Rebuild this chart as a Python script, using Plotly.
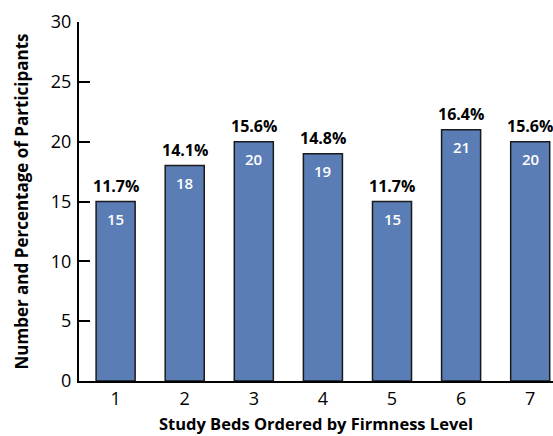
import plotly.graph_objects as go

beds = [1, 2, 3, 4, 5, 6, 7]
counts = [15, 18, 20, 19, 15, 21, 20]
percents = ["11.7%", "14.1%", "15.6%", "14.8%", "11.7%", "16.4%", "15.6%"]

FONT = "Open Sans"

fig = go.Figure()
fig.add_trace(go.Bar(
    x=beds, y=counts,
    marker=dict(color="#5b7db5", line=dict(color="#1a1a1a", width=1.5)),
    width=0.565,
    cliponaxis=False,
))
for b, c, p in zip(beds, counts, percents):
    fig.add_annotation(x=b, y=c, text=p, showarrow=False, yanchor="bottom", yshift=3,
                       font=dict(family=FONT, size=16, color="black", weight="bold"))
    fig.add_annotation(x=b, y=c, text=str(c), showarrow=False, yanchor="top", yshift=-5,
                       font=dict(family=FONT, size=15, color="white", weight=600))

fig.update_layout(
    width=553, height=436,
    margin=dict(l=79, r=0, t=22, b=55),
    plot_bgcolor="white", paper_bgcolor="white",
    showlegend=False,
    font=dict(family=FONT, color="black"),
)
fig.update_xaxes(range=[0.47, 7.33], tickvals=beds, showline=True, linecolor="black", linewidth=2,
                 ticks="", showgrid=False, zeroline=False, ticklabelstandoff=0,
                 tickfont=dict(size=18, family=FONT),
                 title=dict(text="Study Beds Ordered by Firmness Level", standoff=10,
                            font=dict(size=16.5, family=FONT, weight="bold")))
fig.update_yaxes(range=[0, 30], tickvals=[0, 5, 10, 15, 20, 25, 30], showline=True, linecolor="black",
                 linewidth=2, ticks="inside", ticklen=11, tickwidth=2, tickcolor="black",
                 showgrid=False, zeroline=False, ticklabelstandoff=2,
                 tickfont=dict(size=18, family=FONT),
                 title=dict(text="Number and Percentage of Participants", standoff=18,
                            font=dict(size=17, family=FONT, weight="bold")))

fig.write_html("out.html")
